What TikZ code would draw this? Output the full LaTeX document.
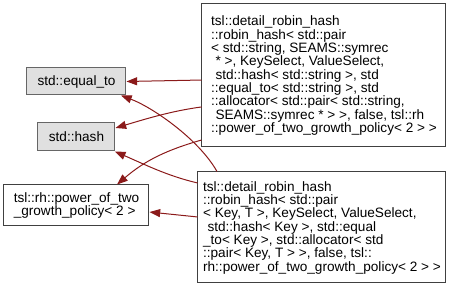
\documentclass[tikz,border=0pt]{standalone}
\usepackage{fontspec}
\setmainfont{Liberation Sans}
\usetikzlibrary{arrows.meta}
\definecolor{edgered}{HTML}{8B1A1A}
\definecolor{extfill}{HTML}{E0E0E0}
\definecolor{extdraw}{HTML}{666666}
\definecolor{docdraw}{HTML}{404040}
\tikzset{
  lbl/.style={font=\fontsize{10.2}{10}\selectfont, inner sep=0pt, line width=0.75pt},
  extbox/.style={lbl, draw=extdraw, fill=extfill, align=center},
  docbox/.style={lbl, draw=docdraw, fill=white, align=left},
  dep/.style={draw=edgered, line width=0.75pt,
    -{Triangle[length=8pt,width=6pt,fill=edgered]}},
}
\newcommand{\lsp}{\hspace*{3.3pt}}
\begin{document}
\begin{tikzpicture}[x=0.75pt,y=-0.75pt]
\useasboundingbox (0,0) rectangle (455,291);

% class boxes
\node[docbox, minimum width=183pt, minimum height=107.25pt] (A) at (324,75.5)
  {tsl::detail\_robin\_hash\\
   ::robin\_hash< std::pair\\
   < std::string, SEAMS::symrec\\
   \lsp* >, KeySelect, ValueSelect,\\
   \lsp std::hash< std::string >, std\\
   ::equal\_to< std::string >, std\\
   ::allocator< std::pair< std::string,\\
   \lsp SEAMS::symrec * > >, false, tsl::rh\\
   ::power\_of\_two\_growth\_policy< 2 > >};

\node[docbox, minimum width=186pt, minimum height=83.25pt] (B) at (322,227.5)
  {tsl::detail\_robin\_hash\\
   ::robin\_hash< std::pair\\
   < Key, T >, KeySelect, ValueSelect,\\
   \lsp std::hash< Key >, std::equal\\
   \_to< Key >, std::allocator< std\\
   ::pair< Key, T > >, false, tsl::\\
   rh::power\_of\_two\_growth\_policy< 2 > >};

\node[extbox, minimum width=74.25pt, minimum height=20.25pt] (eq) at (76.5,81.5) {std::equal\_to};
\node[extbox, minimum width=57.75pt, minimum height=21pt] (hs) at (76.5,137) {std::hash};
\node[docbox, minimum width=108.75pt, minimum height=30.75pt] (pw) at (76.5,205.5)
  {tsl::rh::power\_of\_two\\
   \_growth\_policy< 2 >};

% dependency edges
\draw[dep] ([yshift=-3.4pt]A.west) -- (eq.east);
\draw[dep] ([yshift=-23.6pt]A.west) .. controls +(-30,4) and +(30,-9) .. ([yshift=6.75pt]hs.east);
\draw[dep] ([yshift=-48.4pt]A.west) .. controls +(-35,10) and +(28,-24) .. ([xshift=30.4pt]pw.north);
\draw[dep] ([xshift=-78.75pt]B.north) .. controls +(-18,-32) and +(32,12) .. ([xshift=33.4pt]eq.south);
\draw[dep] ([yshift=33.4pt]B.west) .. controls +(-30,-7) and +(30,13) .. ([xshift=-0.5pt]hs.south east);
\draw[dep] ([yshift=7.9pt]B.west) -- ([yshift=-4.9pt]pw.east);
\end{tikzpicture}
\end{document}
